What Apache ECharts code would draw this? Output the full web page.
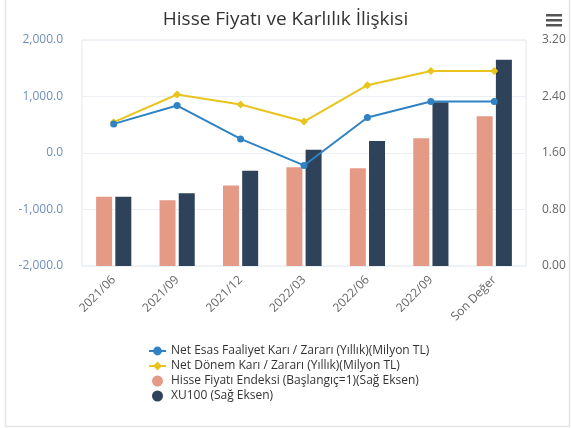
<!DOCTYPE html>
<html>
<head>
<meta charset="utf-8">
<script src="https://cdn.jsdelivr.net/npm/echarts@6/dist/echarts.min.js"></script>
<style>
  html, body { margin: 0; padding: 0; background: #fff; }
  #main { width: 571px; height: 428px; }
</style>
</head>
<body>
<div id="main"></div>
<script>
  // data
  const categories = ["2021/06", "2021/09", "2021/12", "2022/03", "2022/06", "2022/09", "Son Değer"];
  const netEsas = [515, 840, 250, -220, 627, 910, 910];
  const netDonem = [545, 1035, 858, 556, 1200, 1450, 1450];
  const hisseEndeks = [0.98, 0.93, 1.14, 1.40, 1.385, 1.81, 2.12];
  const xu100 = [0.98, 1.03, 1.35, 1.645, 1.77, 2.32, 2.92];
  const leftTicks = [-2000, 2000, 1000];
  const rightTicks = [0, 3.2, 0.8];

  const chart = echarts.init(document.getElementById("main"));

  const option = {
    animation: false,
    textStyle: { fontFamily: "Open Sans" },
    title: {
      text: "Hisse Fiyatı ve Karlılık İlişkisi",
      left: "center",
      top: 5,
      textStyle: { fontSize: 19, fontWeight: "normal", color: "#333" }
    },
    graphic: [
      {
        type: "rect",
        shape: { x: 5.5, y: -5, width: 564, height: 431.5 },
        style: { fill: "none", stroke: "#e6e6e6", lineWidth: 1.5 },
        silent: true
      },
      {
        type: "group",
        left: 546,
        top: 14,
        children: [
          { type: "rect", shape: { x: 0, y: 0, width: 16, height: 2.5 }, style: { fill: "#555" } },
          { type: "rect", shape: { x: 0, y: 5, width: 16, height: 2.5 }, style: { fill: "#555" } },
          { type: "rect", shape: { x: 0, y: 10, width: 16, height: 2.5 }, style: { fill: "#555" } }
        ]
      }
    ],
    grid: { left: 82, right: 45, top: 40, bottom: 162, show: true, borderColor: "#e3e8ee", containLabel: false },
    legend: {
      orient: "vertical",
      left: 143,
      top: 340,
      itemGap: 3,
      itemWidth: 17,
      itemHeight: 11,
      textStyle: { fontSize: 12, color: "#333" },
      data: [
        { name: "Net Esas Faaliyet Karı / Zararı (Yıllık)(Milyon TL)" },
        { name: "Net Dönem Karı / Zararı (Yıllık)(Milyon TL)" },
        { name: "Hisse Fiyatı Endeksi (Başlangıç=1)(Sağ Eksen)", icon: "circle" },
        { name: "XU100 (Sağ Eksen)", icon: "circle" }
      ]
    },
    xAxis: {
      type: "category",
      data: categories,
      boundaryGap: true,
      axisLine: { show: false },
      axisTick: { show: false },
      axisLabel: { rotate: 45, color: "#666", fontSize: 12, margin: 12, interval: 0 }
    },
    yAxis: [
      {
        type: "value",
        min: leftTicks[0],
        max: leftTicks[1],
        interval: leftTicks[2],
        axisLine: { show: false },
        axisTick: { show: false },
        splitLine: { lineStyle: { color: "#eceff3" } },
        axisLabel: {
          color: "#6f8fb8",
          fontSize: 12,
          margin: 19,
          formatter: v => v.toLocaleString("en-US", { minimumFractionDigits: 1, maximumFractionDigits: 1 })
        }
      },
      {
        type: "value",
        min: rightTicks[0],
        max: rightTicks[1],
        interval: rightTicks[2],
        position: "right",
        axisLine: { show: false },
        axisTick: { show: false },
        splitLine: { show: false },
        axisLabel: { color: "#666", fontSize: 12, margin: 16, formatter: v => v.toFixed(2) }
      }
    ],
    series: [
      {
        name: "Hisse Fiyatı Endeksi (Başlangıç=1)(Sağ Eksen)",
        type: "bar",
        yAxisIndex: 1,
        barWidth: 16,
        barGap: "20%",
        itemStyle: { color: "#e59a86" },
        data: hisseEndeks
      },
      {
        name: "XU100 (Sağ Eksen)",
        type: "bar",
        yAxisIndex: 1,
        barWidth: 16,
        itemStyle: { color: "#2e4359" },
        data: xu100
      },
      {
        name: "Net Esas Faaliyet Karı / Zararı (Yıllık)(Milyon TL)",
        type: "line",
        yAxisIndex: 0,
        symbol: "circle",
        symbolSize: 7,
        lineStyle: { width: 2, color: "#2f82c3" },
        itemStyle: { color: "#2f82c3" },
        data: netEsas,
        z: 5
      },
      {
        name: "Net Dönem Karı / Zararı (Yıllık)(Milyon TL)",
        type: "line",
        yAxisIndex: 0,
        symbol: "diamond",
        symbolSize: 8,
        lineStyle: { width: 2, color: "#e8c41c" },
        itemStyle: { color: "#e8c41c" },
        data: netDonem,
        z: 4
      }
    ]
  };

  chart.setOption(option);
</script>
</body>
</html>
